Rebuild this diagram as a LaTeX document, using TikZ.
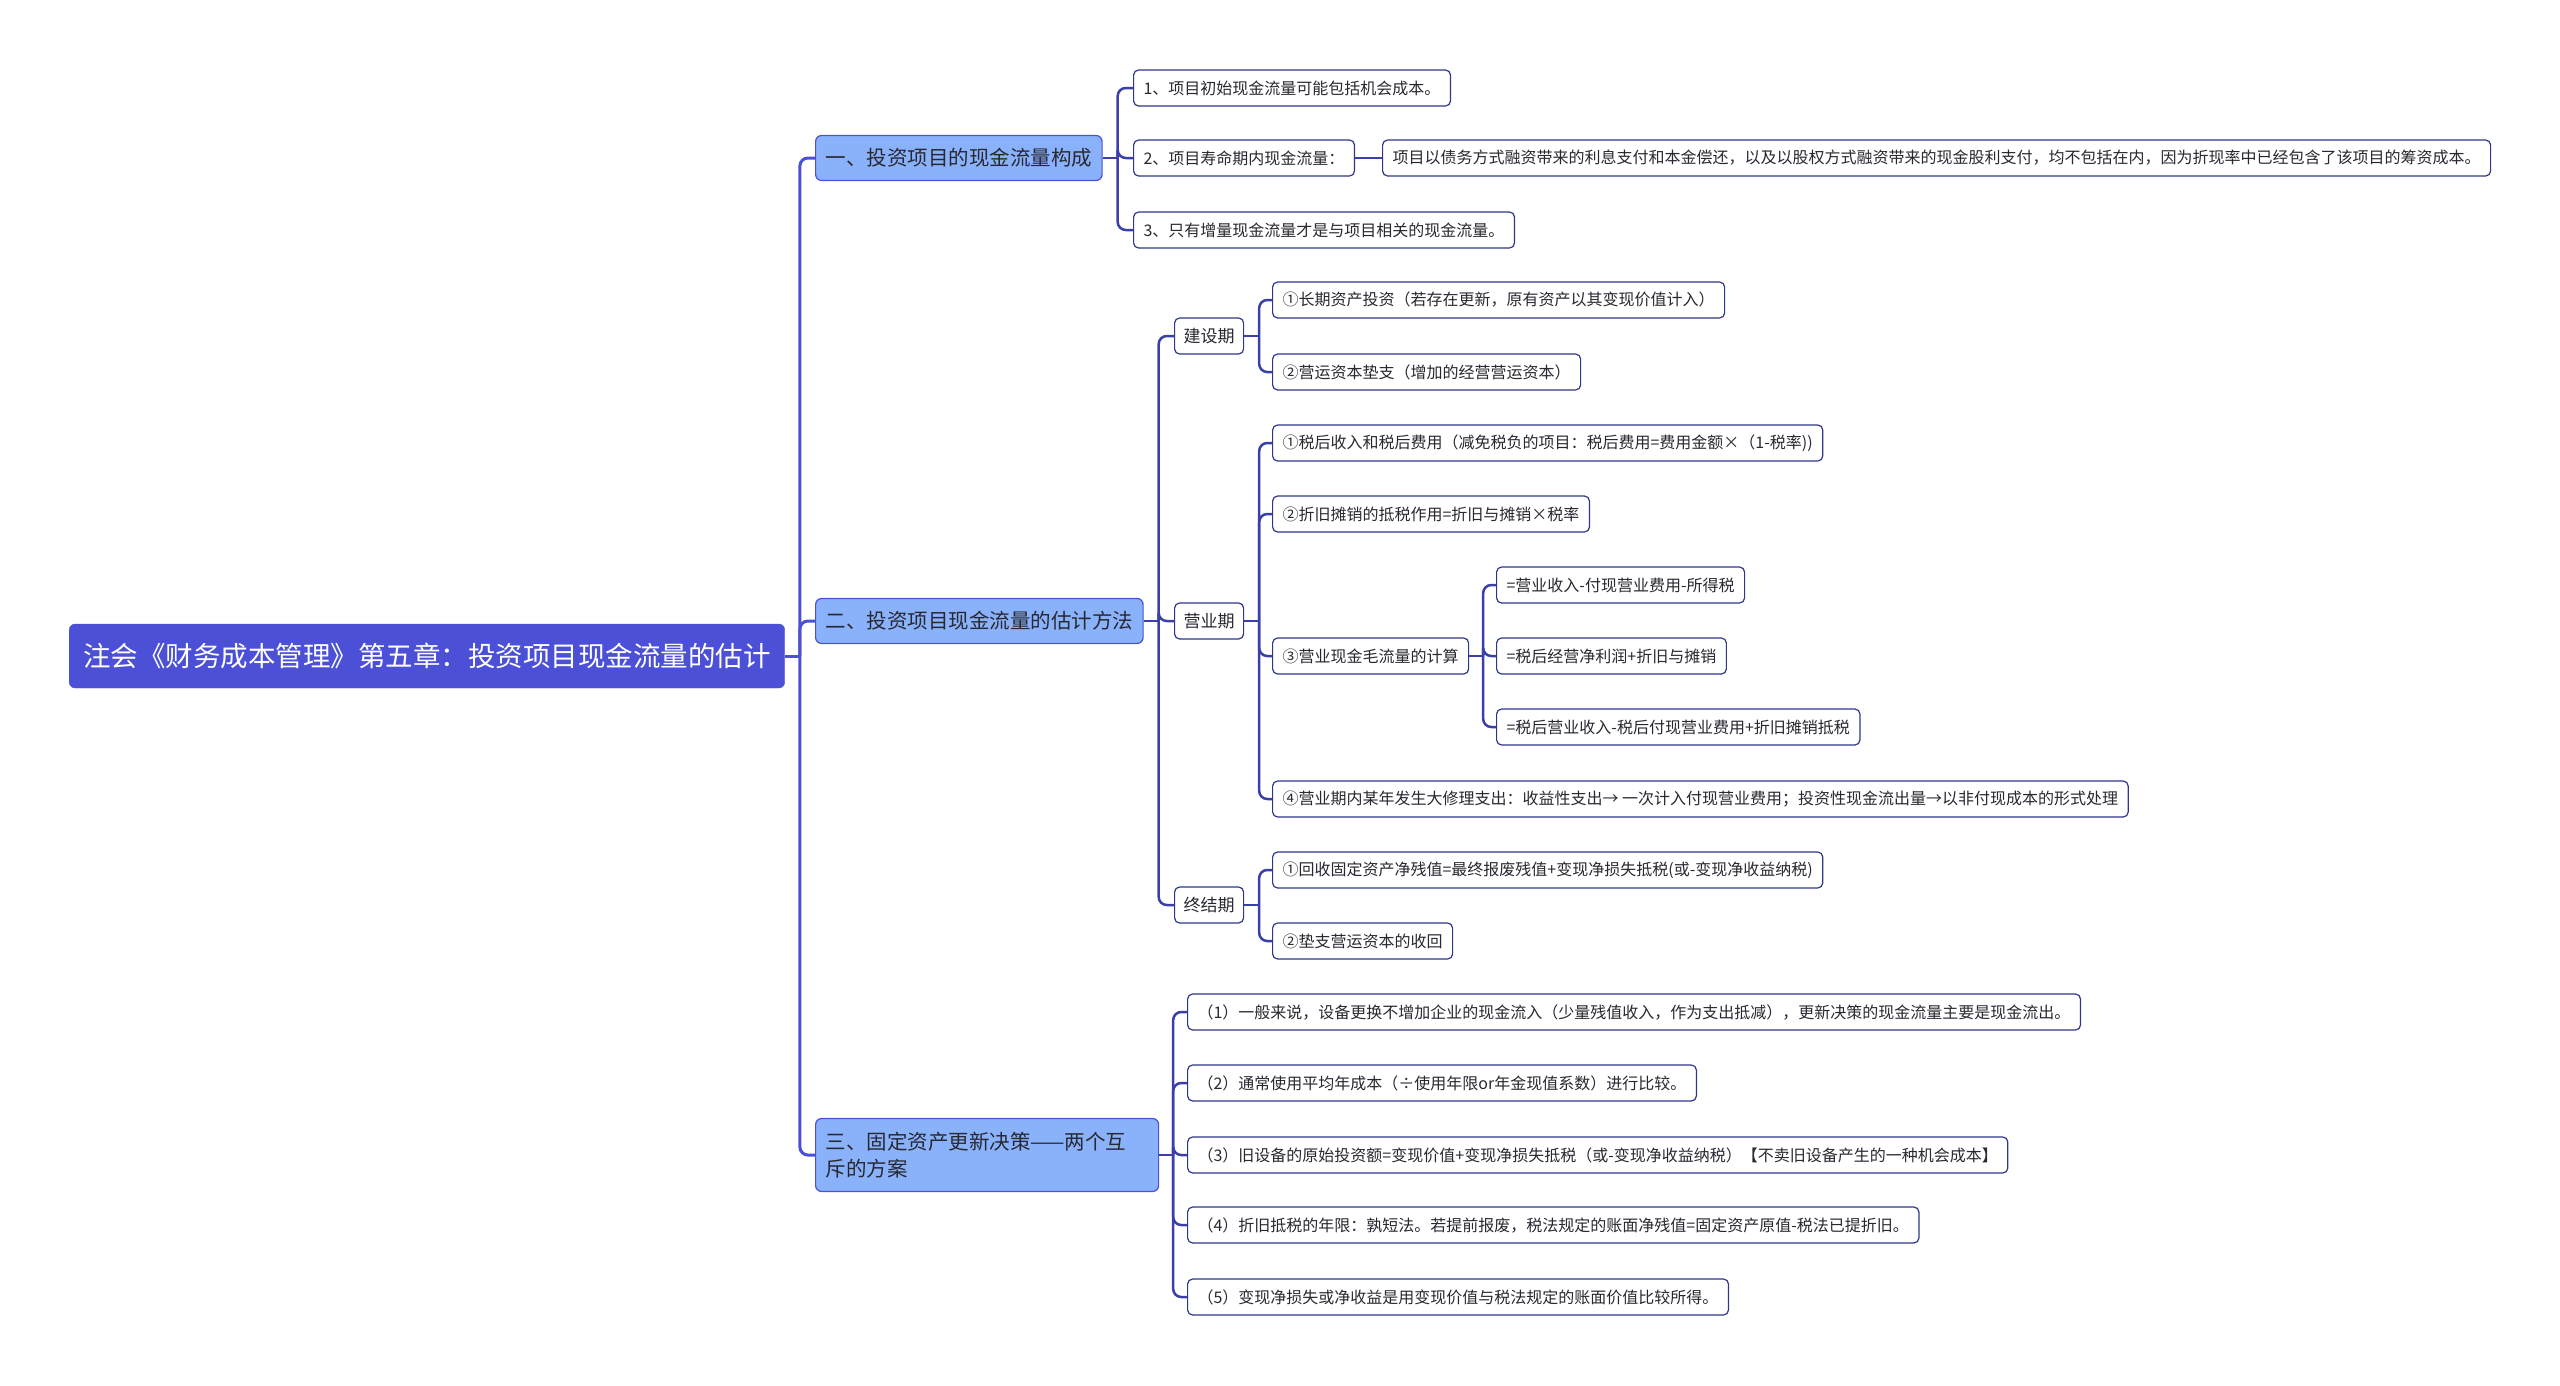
\documentclass[tikz,border=0pt]{standalone}
\usepackage{fontspec}
\setmainfont{Noto Sans CJK SC}
\usetikzlibrary{positioning}

\definecolor{rootblue}{RGB}{75,80,214}
\definecolor{mainblue}{RGB}{138,178,250}
\definecolor{edgeblue}{RGB}{58,64,168}
\definecolor{leafline}{RGB}{48,54,140}
\definecolor{inktext}{RGB}{40,40,50}

\begin{document}
\begin{tikzpicture}[x=1pt, y=-1pt]
		% styles
		\tikzset{
			rootbox/.style={draw=rootblue, fill=rootblue, rounded corners=6pt, text=white, font=\fontsize{27.5}{33}\selectfont, minimum height=64pt, inner xsep=14pt, anchor=west},
			topic/.style={draw=rootblue, line width=1.2pt, fill=mainblue, rounded corners=6pt, text=inktext, font=\fontsize{20.5}{27}\selectfont, minimum height=45pt, inner xsep=10pt, anchor=west, align=left},
			phasebox/.style={draw=leafline, line width=1.2pt, fill=white, rounded corners=5pt, text=inktext, font=\fontsize{17}{20}\selectfont, minimum height=36pt, inner xsep=9pt, anchor=west},
			leaf/.style={draw=leafline, line width=1.2pt, fill=white, rounded corners=5pt, text=inktext, font=\fontsize{16}{20}\selectfont, minimum height=36pt, inner xsep=10pt, anchor=west},
			conn/.style={draw=edgeblue, line width=2.5pt, rounded corners=8pt},
			trunk/.style={draw=rootblue, line width=3pt, rounded corners=8pt}
		}
		\useasboundingbox (0,0) rectangle (2560,1385);

		% root and main topics
		\node[rootbox] (root) at (69,656) {注会《财务成本管理》第五章：投资项目现金流量的估计};
		\node[topic] (n1) at (815,158) {一、投资项目的现金流量构成};
		\node[topic] (n2) at (815,621) {二、投资项目现金流量的估计方法};
		\node[topic, minimum height=73pt, text width=323pt] (n3) at (815,1155) {三、固定资产更新决策——两个互\\斥的方案};

		% cash flow composition
		\node[leaf] (a1) at (1133,88) {1、项目初始现金流量可能包括机会成本。};
		\node[leaf] (a2) at (1133,158) {2、项目寿命期内现金流量：};
		\node[leaf] (a2x) at (1382,158) {项目以债务方式融资带来的利息支付和本金偿还，以及以股权方式融资带来的现金股利支付，均不包括在内，因为折现率中已经包含了该项目的筹资成本。};
		\node[leaf] (a3) at (1133,230) {3、只有增量现金流量才是与项目相关的现金流量。};

		% estimation method: phases
		\node[phasebox] (b1) at (1174,336) {建设期};
		\node[phasebox] (b2) at (1174,621) {营业期};
		\node[phasebox] (b3) at (1174,905) {终结期};

		\node[leaf] (c11) at (1272,300) {①长期资产投资（若存在更新，原有资产以其变现价值计入）};
		\node[leaf] (c12) at (1272,372) {②营运资本垫支（增加的经营营运资本）};

		\node[leaf] (c21) at (1272,443) {①税后收入和税后费用（减免税负的项目：税后费用=费用金额×（1-税率))};
		\node[leaf] (c22) at (1272,514) {②折旧摊销的抵税作用=折旧与摊销×税率};
		\node[leaf] (c23) at (1272,656) {③营业现金毛流量的计算};
		\node[leaf] (c24) at (1272,799) {④营业期内某年发生大修理支出：收益性支出→ 一次计入付现营业费用；投资性现金流出量→以非付现成本的形式处理};

		\node[leaf] (d1) at (1496,585) {=营业收入-付现营业费用-所得税};
		\node[leaf] (d2) at (1496,656) {=税后经营净利润+折旧与摊销};
		\node[leaf] (d3) at (1496,727) {=税后营业收入-税后付现营业费用+折旧摊销抵税};

		\node[leaf] (c31) at (1272,870) {①回收固定资产净残值=最终报废残值+变现净损失抵税(或-变现净收益纳税)};
		\node[leaf] (c32) at (1272,941) {②垫支营运资本的收回};

		% replacement decision
		\node[leaf] (e1) at (1187,1012) {（1）一般来说，设备更换不增加企业的现金流入（少量残值收入，作为支出抵减），更新决策的现金流量主要是现金流出。};
		\node[leaf] (e2) at (1187,1083) {（2）通常使用平均年成本（÷使用年限or年金现值系数）进行比较。};
		\node[leaf] (e3) at (1187,1155) {（3）旧设备的原始投资额=变现价值+变现净损失抵税（或-变现净收益纳税）【不卖旧设备产生的一种机会成本】};
		\node[leaf] (e4) at (1187,1225) {（4）折旧抵税的年限：孰短法。若提前报废，税法规定的账面净残值=固定资产原值-税法已提折旧。};
		\node[leaf] (e5) at (1187,1297) {（5）变现净损失或净收益是用变现价值与税法规定的账面价值比较所得。};

		% connections
		\draw[trunk] (root.east) -- ++(15,0) coordinate (s0);
		\foreach \t in {n1,n2,n3} \draw[trunk] (s0) |- (\t.west);

		\draw[conn] (n1.east) -- ++(15,0) coordinate (s1);
		\foreach \t in {a1,a2,a3} \draw[conn] (s1) |- (\t.west);
		\draw[conn] (a2.east) -- (a2x.west);

		\draw[conn] (n2.east) -- ++(15,0) coordinate (s2);
		\foreach \t in {b1,b2,b3} \draw[conn] (s2) |- (\t.west);

		\draw[conn] (b1.east) -- ++(15,0) coordinate (s21);
		\foreach \t in {c11,c12} \draw[conn] (s21) |- (\t.west);
		\draw[conn] (b2.east) -- ++(15,0) coordinate (s22);
		\foreach \t in {c21,c22,c23,c24} \draw[conn] (s22) |- (\t.west);
		\draw[conn] (b3.east) -- ++(15,0) coordinate (s23);
		\foreach \t in {c31,c32} \draw[conn] (s23) |- (\t.west);

		\draw[conn] (c23.east) -- ++(14,0) coordinate (s3);
		\foreach \t in {d1,d2,d3} \draw[conn] (s3) |- (\t.west);

		\draw[conn] (n3.east) -- ++(14,0) coordinate (s4);
		\foreach \t in {e1,e2,e3,e4,e5} \draw[conn] (s4) |- (\t.west);
\end{tikzpicture}
\end{document}
